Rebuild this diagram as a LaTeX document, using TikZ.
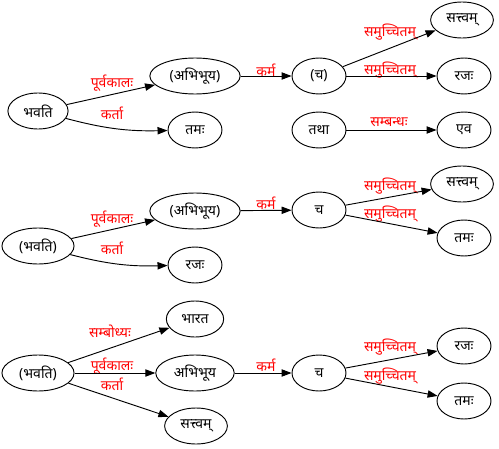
\documentclass[tikz,border=0pt]{standalone}
\usepackage{fontspec}
\newfontfamily\devfont[Script=Devanagari]{Noto Sans}
\usetikzlibrary{shapes.geometric,arrows.meta}

\begin{document}
\begin{tikzpicture}[x=0.75pt, y=-0.75pt,
  every node/.style={font=\devfont\fontsize{10.5}{12}\selectfont},
  word/.style={ellipse, draw, line width=0.7pt, minimum width=40.5pt, minimum height=27pt, inner xsep=5pt, inner ysep=2pt},
  rel/.style={text=red, inner sep=1pt},
  edge/.style={draw, line width=0.7pt, -{Triangle[length=7.5pt,width=5.5pt]}}]
  \useasboundingbox (0,0) rectangle (499,449);

  % first sentence
  \node[word] (a1) at (38,111) {भवति};
  \node[word] (a2) at (195,76) {(अभिभूय)};
  \node[word] (a3) at (195,130) {तमः};
  \node[word] (a4) at (319,76) {(च)};
  \node[word] (a5) at (462,20) {सत्त्वम्};
  \node[word] (a6) at (464,76) {रजः};
  \node[word] (a7) at (319,130) {तथा};
  \node[word] (a8) at (464,130) {एव};
  \node[rel] (ra1) at (112,83) {पूर्वकालः};
  \node[rel] (ra2) at (112,113) {कर्ता};
  \node[rel] (ra3) at (266,70) {कर्म};
  \node[rel] (ra4) at (390,32) {समुच्चितम्};
  \node[rel] (ra5) at (390,70) {समुच्चितम्};
  \node[rel] (ra6) at (389,122) {सम्बन्धः};

  % second sentence
  \node[word] (b1) at (38,246) {(भवति)};
  \node[word] (b2) at (195,211) {(अभिभूय)};
  \node[word] (b3) at (195,265) {रजः};
  \node[word] (b4) at (319,210) {च};
  \node[word] (b5) at (462,184) {सत्त्वम्};
  \node[word] (b6) at (464,238) {तमः};
  \node[rel] (rb1) at (112,219) {पूर्वकालः};
  \node[rel] (rb2) at (112,248) {कर्ता};
  \node[rel] (rb3) at (266,203) {कर्म};
  \node[rel] (rb4) at (390,186) {समुच्चितम्};
  \node[rel] (rb5) at (390,214) {समुच्चितम्};

  % third sentence
  \node[word] (c1) at (38,373) {(भवति)};
  \node[word] (c2) at (195,319) {भारत};
  \node[word] (c3) at (195,373) {अभिभूय};
  \node[word] (c4) at (196,426) {सत्त्वम्};
  \node[word] (c5) at (319,373) {च};
  \node[word] (c6) at (464,346) {रजः};
  \node[word] (c7) at (464,401) {तमः};
  \node[rel] (rc1) at (110,331) {सम्बोध्यः};
  \node[rel] (rc2) at (112,366) {पूर्वकालः};
  \node[rel] (rc3) at (112,384) {कर्ता};
  \node[rel] (rc4) at (266,365) {कर्म};
  \node[rel] (rc5) at (390,347) {समुच्चितम्};
  \node[rel] (rc6) at (390,376) {समुच्चितम्};

  \foreach \s/\t in {a1/a2, a2/a4, a4/a5, a4/a6, a7/a8,
                     b1/b2, b2/b4, b4/b5, b4/b6,
                     c1/c2, c1/c3, c1/c4, c3/c5, c5/c6, c5/c7} {
    \draw[edge] (\s) -- (\t);
  }
  \draw[edge] (a1) to[bend right=8] (a3);
  \draw[edge] (b1) to[bend right=8] (b3);
\end{tikzpicture}
\end{document}
